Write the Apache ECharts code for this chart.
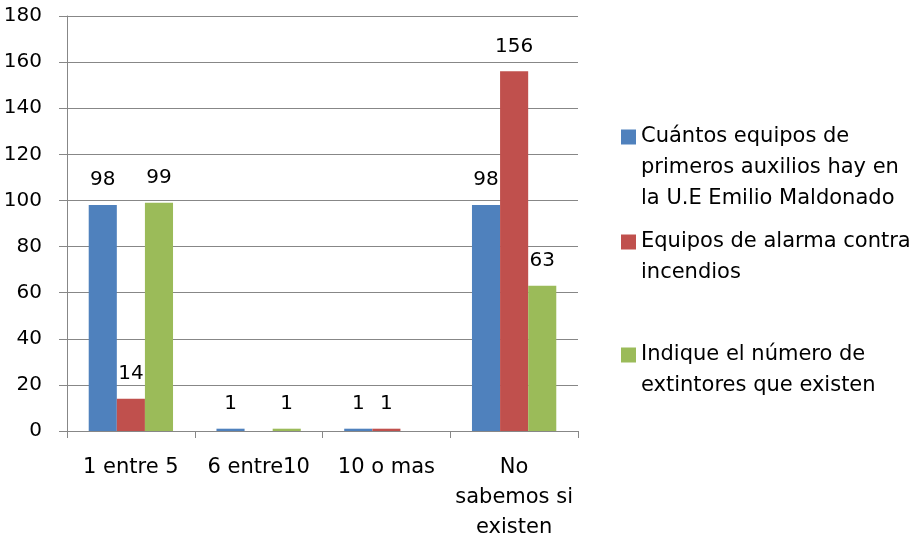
<!DOCTYPE html>
<html>
<head>
<meta charset="utf-8">
<script src="https://cdn.jsdelivr.net/npm/echarts@6/dist/echarts.min.js"></script>
<style>
html,body{margin:0;padding:0;background:#fff;}
#c{width:917px;height:540px;}
</style>
</head>
<body>
<div id="c"></div>
<script>
var categories = ['1 entre 5', '6 entre10', '10 o mas', 'No\nsabemos si\nexisten'];
var seriesNames = [
  'Cuántos equipos de\nprimeros auxilios hay en\nla U.E Emilio Maldonado',
  'Equipos de alarma contra\nincendios',
  'Indique el número de\nextintores que existen'
];
var primerosAuxilios = [98, 1, 1, 98];
var alarmaIncendios = [14, null, 1, 156];
var extintores = [99, 1, null, 63];
var yTicks = [0, 20, 40, 60, 80, 100, 120, 140, 160, 180];

var colors = ['#4F81BD', '#C0504D', '#9BBB59'];
var FONT = 'DejaVu Sans';
var gridColor = '#878787';
var LH = 31;

function legendFor(i, top, lines) {
  var h = lines * LH;
  var s0 = LH / 2 - 7.5, s1 = LH / 2 + 7.5;
  return {
    data: [seriesNames[i]],
    left: 621,
    top: top,
    padding: 0,
    itemWidth: 15,
    itemHeight: h,
    icon: 'path://M0,0L0,0M15,' + h + 'L15,' + h + 'M0,' + s0 + 'L15,' + s0 + 'L15,' + s1 + 'L0,' + s1 + 'Z',
    selectedMode: false,
    textStyle: {fontFamily: FONT, fontSize: 21, lineHeight: LH, color: '#000'}
  };
}

var chart = echarts.init(document.getElementById('c'), null, {renderer: 'canvas'});
var seriesData = [primerosAuxilios, alarmaIncendios, extintores];
chart.setOption({
  animation: false,
  textStyle: {fontFamily: FONT},
  color: colors,
  legend: [legendFor(0, 121.5, 3), legendFor(1, 226.5, 2), legendFor(2, 339.5, 2)],
  grid: {left: 67, right: 339, top: 16, bottom: 109, containLabel: false, outerBoundsMode: 'none'},
  xAxis: {
    type: 'category',
    data: categories,
    boundaryGap: true,
    axisLine: {show: true, lineStyle: {color: gridColor, width: 1}},
    axisTick: {show: true, length: 7, alignWithLabel: false, lineStyle: {color: gridColor}},
    axisLabel: {fontFamily: FONT, fontSize: 21, lineHeight: 30, color: '#000', margin: 22, interval: 0}
  },
  yAxis: {
    type: 'value',
    min: yTicks[0],
    max: yTicks[yTicks.length - 1],
    interval: yTicks[1] - yTicks[0],
    axisLine: {show: true, lineStyle: {color: gridColor, width: 1}},
    axisTick: {show: true, length: 8, inside: false, lineStyle: {color: gridColor}},
    splitLine: {show: true, lineStyle: {color: gridColor, width: 1}},
    axisLabel: {fontFamily: FONT, fontSize: 20, color: '#000', margin: 25}
  },
  series: seriesData.map(function (d, i) {
    return {
      name: seriesNames[i],
      type: 'bar',
      data: d,
      barGap: '0%',
      barCategoryGap: '34%',
      itemStyle: {color: colors[i]},
      label: {
        show: true,
        position: 'top',
        distance: 15,
        fontFamily: FONT,
        fontSize: 20,
        color: '#000'
      }
    };
  })
});
</script>
</body>
</html>
